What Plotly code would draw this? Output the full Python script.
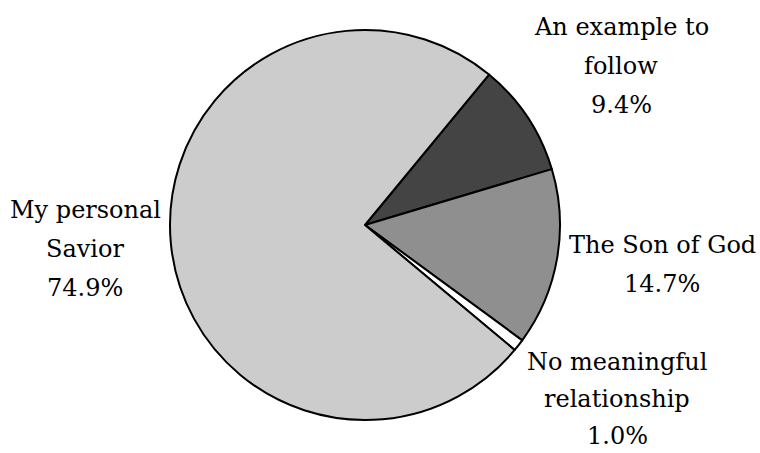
import plotly.graph_objects as go

labels = ["An example to follow", "The Son of God", "No meaningful relationship", "My personal Savior"]
values = [9.4, 14.7, 1.0, 74.9]
label_lines = [["An example to", "follow", "9.4%"],
               ["The Son of God", "14.7%"],
               ["No meaningful", "relationship", "1.0%"],
               ["My personal", "Savior", "74.9%"]]
colors = ["#444444", "#8f8f8f", "#ffffff", "#cccccc"]
# label centre x, first-line y (pixels), line step
label_pos = [(621, 27, 39), (662, 245, 39), (617, 362, 37), (85, 210, 39)]

W, H = 760, 453
FONT = "DejaVu Serif"
fig = go.Figure(go.Pie(
    labels=labels, values=values, sort=False, direction="clockwise", rotation=39.5,
    marker=dict(colors=colors, line=dict(color="black", width=2)),
    textinfo="none", hoverinfo="label+percent", showlegend=False,
    domain=dict(x=[170/W, 560/W], y=[1-421/H, 1-29/H]),
))
for lines, (px, py, step) in zip(label_lines, label_pos):
    for i, line in enumerate(lines):
        fig.add_annotation(text=line, x=px/W, y=1-(py + i*step)/H,
                           xref="paper", yref="paper",
                           xanchor="center", yanchor="middle", showarrow=False,
                           font=dict(family=FONT, size=24, color="black"))
fig.update_layout(width=W, height=H, margin=dict(l=0, r=0, t=0, b=0),
                  paper_bgcolor="white", plot_bgcolor="white",
                  font=dict(family=FONT))
fig.write_html("out.html")
